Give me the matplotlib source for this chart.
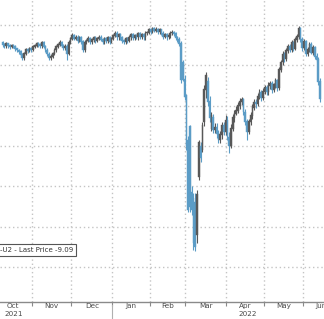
import numpy as np
import pandas as pd
import matplotlib
matplotlib.use("Agg")
import matplotlib.pyplot as plt

# Daily candles, trading days from early Oct 2021 to mid Jun 2022
opens = [
    -2.2, -2.4, -2.6, -2.3, -2.5, -2.7, -2.5, -2.6, -2.9, -3.1,
    -3.3, -3.7, -4.1, -3.5, -3.0, -3.2, -2.9, -3.0, -2.7, -2.5,
    -2.3, -2.4, -2.6, -2.2, -2.7, -3.1, -3.6, -4.1, -3.9, -3.5,
    -3.1, -2.7, -2.4, -2.1, -2.5, -2.8, -2.6, -3.5, -2.1, -1.7,
    -1.3, -1.7, -1.5, -1.9, -1.6, -2.0, -3.1, -2.1, -1.9, -1.7,
    -2.0, -1.8, -1.6, -1.9, -1.7, -1.5, -1.8, -2.1, -1.7, -1.9,
    -1.6, -2.0, -1.7, -1.3, -1.0, -1.5, -1.2, -1.6, -1.9, -2.1,
    -1.7, -1.9, -1.5, -1.2, -1.6, -1.3, -1.5, -1.1, -1.4, -1.2,
    -1.5, -1.0, -0.9, -0.6, -0.8, -0.4, -0.7, -0.5, -0.8, -0.6,
    -1.0, -1.4, -1.2, -1.5, -1.3, -1.0, -0.9, -1.1, -1.6, -1.8,
    -2.3, -4.6, -6.8, -8.7, -14.3, -12.6, -20.8, -21.5, -22.0, -26.0,
    -18.8, -15.0, -15.5, -12.0, -8.0, -7.0, -9.5, -12.8, -11.5, -13.0,
    -12.7, -13.5, -14.2, -13.6, -12.4, -13.2, -11.8, -13.9, -15.0, -12.8,
    -11.5, -11.0, -10.6, -10.0, -9.5, -9.2, -10.8, -12.0, -13.2, -12.0,
    -11.2, -10.2, -9.6, -9.8, -8.8, -8.3, -9.0, -8.2, -7.8, -8.3,
    -7.5, -7.2, -8.0, -7.4, -6.9, -7.8, -5.5, -4.6, -3.6, -4.2,
    -3.2, -2.6, -3.1, -2.2, -2.9, -1.8, -1.4, -0.4, -1.8, -2.8,
    -2.0, -3.6, -3.0, -2.4, -3.4, -2.8, -3.9, -4.3, -7.0,
]
closes = [
    -2.4, -2.6, -2.3, -2.5, -2.7, -2.5, -2.6, -2.9, -3.1, -3.3,
    -3.7, -4.1, -3.5, -3.0, -3.2, -2.9, -3.0, -2.7, -2.5, -2.3,
    -2.4, -2.6, -2.2, -2.7, -3.1, -3.6, -4.1, -3.9, -3.5, -3.1,
    -2.7, -2.4, -2.1, -2.5, -2.8, -2.6, -3.5, -2.1, -1.7, -1.3,
    -1.7, -1.5, -1.9, -1.6, -2.0, -3.1, -2.1, -1.9, -1.7, -2.0,
    -1.8, -1.6, -1.9, -1.7, -1.5, -1.8, -2.1, -1.7, -1.9, -1.6,
    -2.0, -1.7, -1.3, -1.0, -1.5, -1.2, -1.6, -1.9, -2.1, -1.7,
    -1.9, -1.5, -1.2, -1.6, -1.3, -1.5, -1.1, -1.4, -1.2, -1.5,
    -1.0, -0.9, -0.6, -0.8, -0.4, -0.7, -0.5, -0.8, -0.6, -1.0,
    -1.4, -1.2, -1.5, -1.3, -1.0, -0.9, -1.1, -1.6, -1.8, -2.3,
    -6.8, -6.8, -8.9, -15.0, -22.9, -22.5, -22.9, -27.0, -27.5, -21.0,
    -14.5, -16.5, -12.5, -8.0, -6.2, -9.5, -11.5, -11.2, -13.0, -12.7,
    -13.5, -14.2, -13.6, -12.4, -13.2, -11.8, -13.9, -15.0, -12.8, -11.5,
    -11.0, -10.6, -10.0, -9.5, -9.2, -10.8, -12.0, -13.2, -12.0, -11.2,
    -10.2, -9.6, -9.8, -8.8, -8.3, -9.0, -8.2, -7.8, -8.3, -7.5,
    -7.2, -8.0, -7.4, -6.9, -7.8, -5.5, -4.6, -3.6, -4.2, -3.2,
    -2.6, -3.1, -2.2, -2.9, -1.8, -1.4, -0.4, -1.8, -2.8, -2.0,
    -3.6, -3.0, -2.4, -3.4, -2.8, -3.9, -4.3, -7.0, -9.09,
]
highs = [
    -2.0, -2.2, -2.1, -2.2, -2.4, -2.3, -2.3, -2.5, -2.8, -3.0,
    -3.1, -3.5, -3.3, -2.8, -2.8, -2.7, -2.7, -2.5, -2.3, -2.1,
    -2.1, -2.2, -2.0, -2.0, -2.5, -2.9, -3.4, -3.6, -3.3, -2.9,
    -2.5, -2.2, -1.8, -2.0, -2.3, -2.4, -2.4, -1.9, -1.5, -1.0,
    -1.1, -1.3, -1.3, -1.4, -1.4, -1.8, -1.8, -1.7, -1.4, -1.5,
    -1.6, -1.4, -1.4, -1.5, -1.3, -1.3, -1.6, -1.5, -1.5, -1.4,
    -1.4, -1.5, -1.1, -0.8, -0.8, -1.0, -1.0, -1.4, -1.7, -1.5,
    -1.5, -1.3, -1.0, -1.0, -1.1, -1.1, -0.9, -0.9, -1.0, -1.0,
    -0.8, -0.7, -0.4, -0.4, -0.2, -0.3, -0.3, -0.4, -0.4, -0.5,
    -0.8, -1.0, -1.0, -1.1, -0.8, -0.6, -0.7, -0.9, -1.4, -1.5,
    -2.0, -4.3, -6.2, -8.5, -13.8, -12.4, -20.0, -20.8, -20.8, -20.5,
    -14.3, -14.5, -12.0, -7.5, -5.8, -6.5, -8.8, -10.8, -11.0, -12.2,
    -12.2, -13.0, -13.2, -12.0, -12.0, -11.2, -11.3, -13.3, -12.3, -11.0,
    -10.5, -10.0, -9.6, -9.0, -8.9, -9.0, -10.4, -11.6, -11.6, -10.8,
    -9.8, -9.2, -9.2, -8.4, -7.9, -8.1, -7.8, -7.5, -7.5, -7.1,
    -6.9, -7.0, -7.2, -6.6, -6.7, -5.2, -4.3, -3.2, -3.3, -2.9,
    -2.3, -2.4, -1.9, -2.0, -1.5, -1.1, -0.1, -0.3, -1.5, -1.7,
    -1.8, -2.7, -2.1, -2.1, -2.5, -2.6, -3.5, -4.0, -6.6,
]
lows = [
    -2.7, -2.9, -2.8, -2.8, -3.0, -2.9, -2.9, -3.2, -3.4, -3.6,
    -4.0, -4.3, -4.3, -3.7, -3.5, -3.4, -3.3, -3.2, -2.9, -2.7,
    -2.7, -2.9, -2.9, -2.9, -3.4, -3.9, -4.3, -4.3, -4.1, -3.7,
    -3.3, -2.9, -2.6, -2.7, -3.1, -3.1, -4.3, -3.7, -2.3, -1.9,
    -1.9, -1.9, -2.2, -2.1, -2.3, -3.3, -3.3, -2.4, -2.1, -2.3,
    -2.3, -2.1, -2.2, -2.1, -1.9, -2.0, -2.4, -2.3, -2.2, -2.2,
    -2.3, -2.2, -1.9, -1.5, -1.8, -1.8, -1.9, -2.2, -2.4, -2.4,
    -2.2, -2.1, -1.8, -1.9, -1.9, -1.7, -1.8, -1.7, -1.7, -1.8,
    -1.8, -1.3, -1.1, -1.1, -1.0, -0.9, -0.9, -1.1, -1.1, -1.3,
    -1.7, -1.6, -1.8, -1.7, -1.6, -1.3, -1.4, -1.9, -2.1, -2.6,
    -7.2, -7.0, -9.3, -15.5, -23.2, -23.2, -23.5, -27.9, -28.0, -27.0,
    -19.2, -17.0, -15.8, -12.5, -9.0, -10.0, -12.0, -13.2, -13.4, -13.4,
    -14.0, -14.6, -14.6, -14.1, -13.7, -13.6, -14.3, -15.9, -15.3, -13.2,
    -12.0, -11.2, -10.9, -10.4, -9.9, -11.2, -12.4, -14.3, -13.5, -12.4,
    -11.6, -10.6, -10.3, -10.1, -9.2, -9.4, -9.3, -8.6, -8.7, -8.7,
    -7.9, -8.4, -8.3, -7.8, -8.2, -8.0, -5.8, -4.9, -4.6, -4.5,
    -3.5, -3.4, -3.4, -3.2, -3.1, -2.1, -1.7, -2.1, -3.2, -3.1,
    -3.9, -3.9, -3.3, -3.6, -3.7, -4.2, -4.6, -7.4, -9.5,
]

start_date = "2021-10-07"
month_labels = ["Oct", "Nov", "Dec", "Jan", "Feb", "Mar", "Apr", "May", "Jun"]
year_labels = ["2021", "2022"]
legend_text = "-U2 - Last Price -9.09"

UP_COLOR = "#585858"
DOWN_COLOR = "#5b9cc6"
GRID_COLOR = "#c4c4c4"
TEXT_COLOR = "#4a4a4a"

dates = pd.bdate_range(start_date, periods=len(closes))
x = np.arange(len(closes))
o = np.array(opens)
c = np.array(closes)
h = np.maximum(np.array(highs), np.maximum(o, c))
l = np.minimum(np.array(lows), np.minimum(o, c))

W, H = 324, 319
fig = plt.figure(figsize=(W / 100, H / 100), dpi=100)
ax = fig.add_axes([0, 1 - 302 / H, 1, 302 / H])

# month boundaries (first trading day of each month)
month_id = dates.year * 12 + dates.month
starts = [0] + [i for i in range(1, len(dates)) if month_id[i] != month_id[i - 1]]
bounds = [s - 0.5 for s in starts[1:]]

for b in bounds:
    ax.axvline(b, color=GRID_COLOR, lw=1.0, ls=(0, (1, 2)), zorder=0)
for yv in range(0, -35, -5):
    ax.axhline(yv, color=GRID_COLOR, lw=1.0, ls=(0, (1, 2)), zorder=0)

up = c >= o
colors = np.where(up, UP_COLOR, DOWN_COLOR)
ax.vlines(x, l, h, colors=colors, lw=0.8, zorder=2)
ax.bar(x, np.abs(c - o) + 0.1, bottom=np.minimum(o, c) - 0.05, width=0.9,
       color=colors, edgecolor=colors, lw=0.3, zorder=3)

ax.set_xlim(-1.5, 180.2)
ax.set_ylim(-34.35, 3.1)

for s in ["top", "right", "left"]:
    ax.spines[s].set_visible(False)
ax.spines["bottom"].set_color("#8a8a8a")
ax.spines["bottom"].set_linewidth(1.0)
ax.set_yticks([])
ax.set_xticks(bounds)
ax.set_xticklabels([])
ax.tick_params(axis="x", length=3, color="#8a8a8a", width=0.8)

xt = ax.get_xaxis_transform()
# month labels centred in each month
ends = starts[1:] + [len(dates)]
for k, (s, e) in enumerate(zip(starts, ends)):
    mid = (s + e - 1) / 2
    if k == 0:
        mid = 6.0
    if k == len(starts) - 1:
        mid = 178.5
    ax.text(mid, -0.004, month_labels[k], transform=xt,
            ha="center", va="top", fontsize=5.2, color=TEXT_COLOR, clip_on=False)

ax.text(6.0, -0.030, year_labels[0], transform=xt,
        ha="center", va="top", fontsize=5.2, color=TEXT_COLOR, clip_on=False)
ax.text(137.5, -0.030, year_labels[1], transform=xt,
        ha="center", va="top", fontsize=5.2, color=TEXT_COLOR, clip_on=False)
# year separator below the axis
ax.plot([bounds[2], bounds[2]], [-0.01, -0.06], transform=xt,
        color="#b0b0b0", lw=0.8, clip_on=False)

ax.text(73 / W, (302 - 250) / 302, legend_text, transform=ax.transAxes,
        ha="right", va="center", fontsize=5.0, color="#333333", zorder=5,
        bbox=dict(boxstyle="square,pad=0.45", fc="white", ec="#555555", lw=0.8))

fig.savefig("out.png", dpi=100)
